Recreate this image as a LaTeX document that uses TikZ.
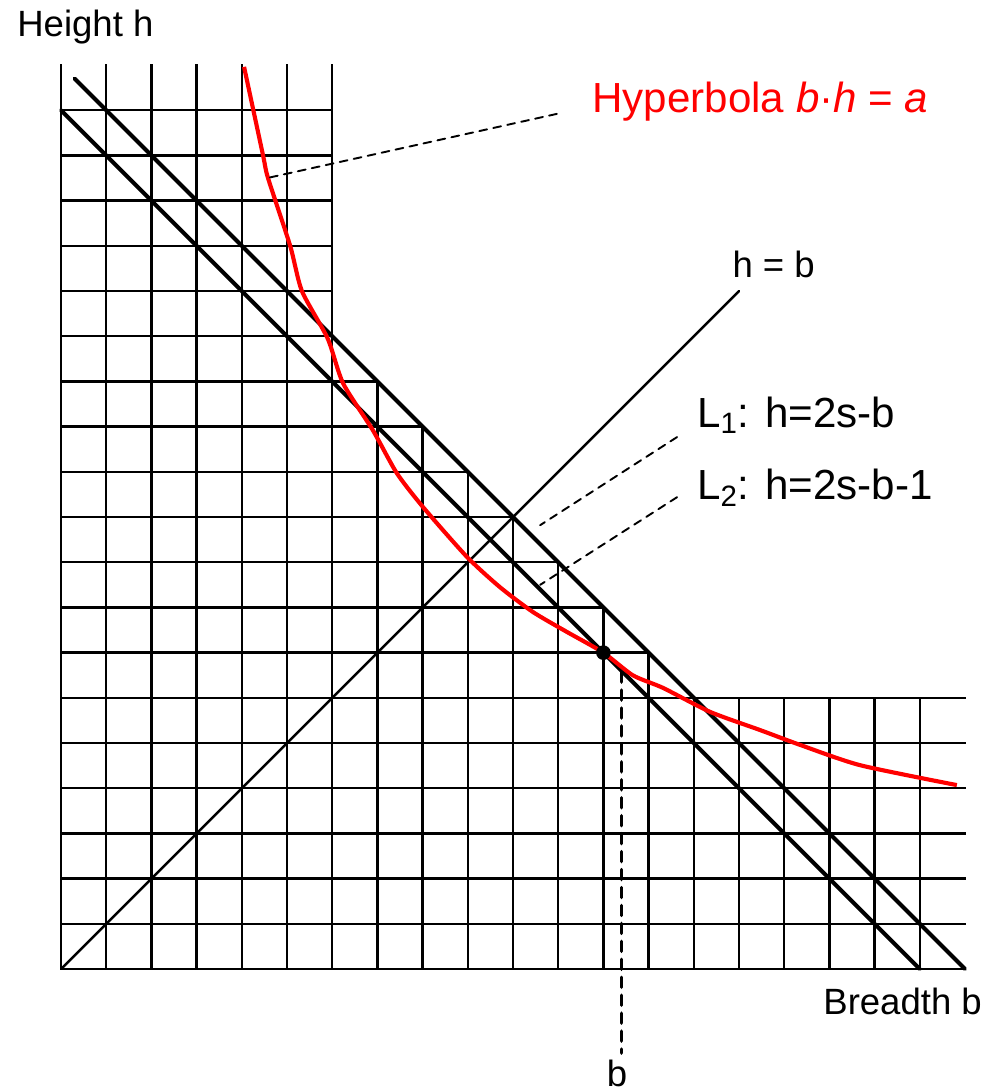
\documentclass[tikz,border=0pt]{standalone}
\usepackage{fontspec}
\setmainfont{Liberation Sans}
\usepackage{tkz-euclide}
\definecolor{CurveClr}{rgb}{1,0,0}

\begin{document}
\begin{tikzpicture}[lbl/.style={font=\fontsize{23}{27}\selectfont,inner sep=0pt},
  biglbl/.style={font=\fontsize{26.5}{31}\selectfont,inner sep=0pt}]
\useasboundingbox (-1.35,-2.72) rectangle (20.71,21.44);
\tkzSetUpLine[line width=1.5pt,color=black]

\tkzDefPoints{0/0/O,20/0/P,19/0/Q,0/19/R,0.3/19.7/S,15/15/T}

% Define the point on the curve and the ends of the leaders.
\tkzDefPoint(12,7){D}
\tkzDefPoint(12.4,6.57){Da}
\tkzDefPoint(12.4,-1.86){Db}
\tkzDefPoint(10.97,18.92){Ha}
\tkzDefPoint(4.56,17.5){Hb}
\tkzDefPoint(13.63,11.77){La}
\tkzDefPoint(10.6,9.82){Lb}
\tkzDefPoint(13.63,10.44){Ma}
\tkzDefPoint(10.6,8.5){Mb}

% Draw the grid: full strips along both axes, steps under L1.
\foreach \k in {0,...,19}{
  \pgfmathsetmacro{\len}{\k<7 ? 20 : max(6,20-\k)}
  \draw[line width=1.5pt,line cap=rect] (\k,0) -- (\k,\len);
  \draw[line width=1.5pt,line cap=rect] (0,\k) -- (\len,\k);
}

% Draw the lines L1, L2 and h=b.
\tkzDrawSegments[line width=2.5pt](S,P R,Q)
\tkzDrawSegment[line width=1.5pt](O,T)

% Draw the hyperbola.
\draw[CurveClr,line width=2.6pt,line join=round] plot[smooth,tension=0.4] coordinates {
  (4.05,19.96) (4.47,18.0) (4.58,17.5) (5.07,16.0) (5.33,15.0) (5.9,13.95)
  (6.24,12.96) (6.9,11.92) (7.43,10.97) (8.01,10.22) (8.98,9.12) (9.71,8.45)
  (10.44,7.9) (11.19,7.46) (12.0,7.0) (12.65,6.5) (13.32,6.22) (14.36,5.69)
  (15.46,5.29) (16.35,4.96) (17.68,4.51) (19.82,4.07)};

% Leaders.
\tkzDrawSegments[line width=1.2pt,dash pattern=on 5pt off 4pt](Ha,Hb La,Lb Ma,Mb)
\tkzDrawSegment[line width=2.2pt,dash pattern=on 6.3pt off 5pt](Da,Db)

\fill (D) circle[radius=4.6pt];

\node[lbl,anchor=base west] (height) at (-0.973,20.64) {Height h};
\node[lbl,anchor=base west] (breadth) at (16.86,-0.996) {Breadth b};
\node[lbl,anchor=base west] (diag) at (14.85,15.29) {h = b};
\node[lbl,anchor=base] (bval) at (12.3,-2.6) {b};
\node[biglbl,anchor=base west,text=CurveClr] (hyper) at (11.75,18.94)
  {Hyperbola \textit{b}·\textit{h} = \textit{a}};
\node[biglbl,anchor=base west] (lone) at (14.07,11.99) {L\textsubscript{1}: h=2s-b};
\node[biglbl,anchor=base west] (ltwo) at (14.07,10.38) {L\textsubscript{2}: h=2s-b-1};

\end{tikzpicture}
\end{document}
